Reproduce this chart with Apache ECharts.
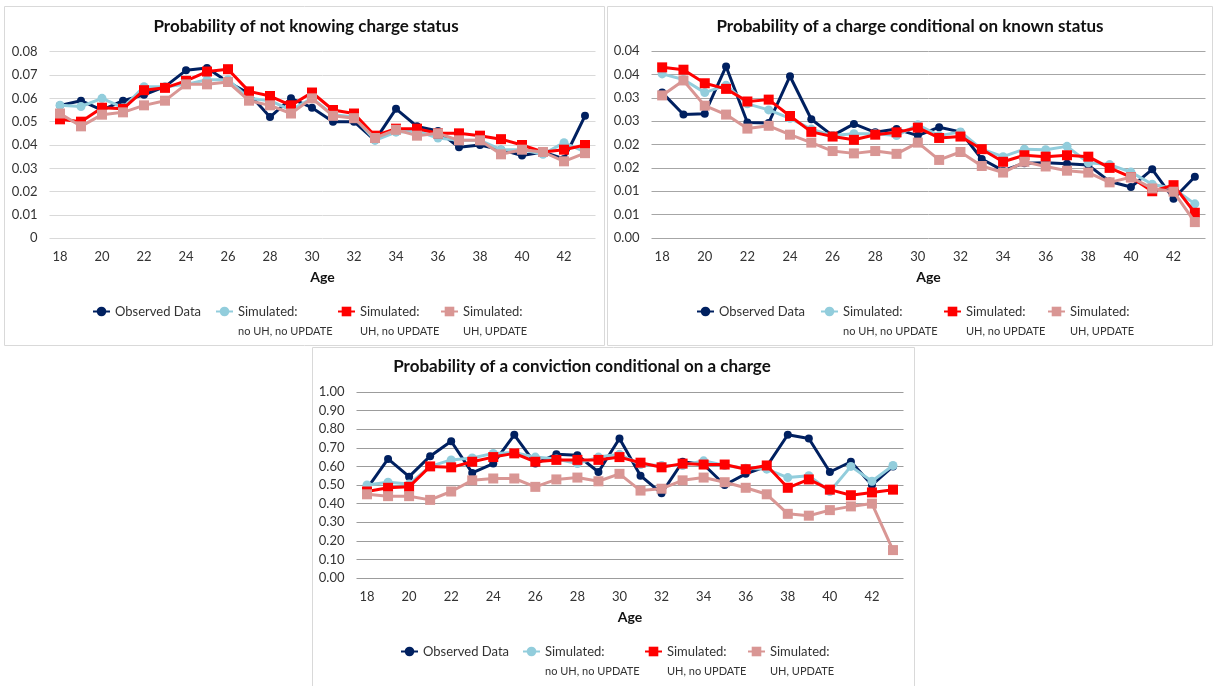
<!DOCTYPE html>
<html><head><meta charset="utf-8">
<script src="https://cdn.jsdelivr.net/npm/echarts@6/dist/echarts.min.js"></script>
<style>html,body{margin:0;padding:0;background:#fff}#c{width:1215px;height:686px}</style>
</head><body><div id="c"></div>
<script>
const ages = ['18','19','20','21','22','23','24','25','26','27','28','29','30','31','32','33','34','35','36','37','38','39','40','41','42','43'];

const seriesNames = ['Observed Data', 'Simulated: no UH, no UPDATE', 'Simulated: UH, no UPDATE', 'Simulated: UH, UPDATE'];
const legendLine1 = ['Observed Data', 'Simulated:', 'Simulated:', 'Simulated:'];
const legendLine2 = [' ', 'no UH, no UPDATE', 'UH, no UPDATE', 'UH, UPDATE'];

const titles = ['Probability of not knowing charge status', 'Probability of a charge conditional on known status', 'Probability of a conviction conditional on a charge'];

// Panel 1: Probability of not knowing charge status
const p1Observed = [0.057,0.059,0.055,0.059,0.0615,0.065,0.072,0.073,0.067,0.062,0.052,0.060,0.056,0.050,0.050,0.042,0.0555,0.048,0.046,0.039,0.040,0.038,0.0355,0.037,0.034,0.0525];
const p1NoUH     = [0.057,0.0565,0.060,0.056,0.065,0.065,0.066,0.068,0.068,0.060,0.059,0.055,0.060,0.053,0.052,0.042,0.0455,0.046,0.043,0.042,0.042,0.038,0.038,0.036,0.041,0.037];
const p1UH       = [0.051,0.050,0.056,0.0555,0.0635,0.0645,0.0675,0.0715,0.0725,0.063,0.061,0.057,0.0625,0.055,0.0535,0.044,0.047,0.047,0.045,0.045,0.044,0.0425,0.040,0.037,0.038,0.040];
const p1UHUpd    = [0.0535,0.048,0.053,0.054,0.057,0.059,0.066,0.066,0.067,0.059,0.057,0.0535,0.060,0.0525,0.0515,0.043,0.0465,0.044,0.045,0.042,0.042,0.036,0.038,0.037,0.033,0.0365];
const p1Ticks = ['0','0.01','0.02','0.03','0.04','0.05','0.06','0.07','0.08'];

// Panel 2: Probability of a charge conditional on known status
const p2Observed = [0.0311,0.0264,0.0266,0.0367,0.0247,0.0246,0.0346,0.0254,0.0219,0.0244,0.0226,0.0233,0.0219,0.0237,0.0227,0.0169,0.0144,0.0160,0.0161,0.0159,0.0156,0.0121,0.0109,0.0147,0.0084,0.0131];
const p2NoUH     = [0.0351,0.0339,0.0311,0.0327,0.0287,0.0274,0.0256,0.0233,0.0219,0.0223,0.0223,0.0219,0.0242,0.0219,0.0227,0.0190,0.0174,0.0190,0.0189,0.0196,0.0161,0.0157,0.0141,0.0115,0.0106,0.0073];
const p2UH       = [0.0365,0.0360,0.0331,0.0319,0.0292,0.0296,0.0261,0.0227,0.0217,0.0210,0.0221,0.0226,0.0236,0.0214,0.0217,0.0190,0.0163,0.0177,0.0174,0.0177,0.0174,0.0150,0.0130,0.0100,0.0113,0.0054];
const p2UHUpd    = [0.0305,0.0337,0.0283,0.0264,0.0234,0.0240,0.0221,0.0204,0.0186,0.0181,0.0186,0.0180,0.0204,0.0167,0.0184,0.0154,0.0140,0.0163,0.0153,0.0144,0.0140,0.0119,0.0130,0.0106,0.0099,0.0034];
const p2Ticks = ['0.00','0.01','0.01','0.02','0.02','0.03','0.03','0.04','0.04'];

// Panel 3: Probability of a conviction conditional on a charge
const p3Observed = [0.48,0.64,0.545,0.655,0.735,0.565,0.615,0.77,0.615,0.665,0.66,0.57,0.75,0.55,0.455,0.625,0.61,0.50,0.56,0.60,0.77,0.75,0.57,0.625,0.50,0.60];
const p3NoUH     = [0.50,0.515,0.505,0.60,0.635,0.645,0.67,0.675,0.65,0.64,0.615,0.65,0.665,0.61,0.605,0.605,0.63,0.605,0.59,0.585,0.54,0.55,0.465,0.60,0.52,0.605];
const p3UH       = [0.465,0.485,0.49,0.60,0.595,0.625,0.65,0.67,0.625,0.635,0.635,0.635,0.65,0.62,0.595,0.615,0.61,0.61,0.585,0.605,0.485,0.53,0.475,0.445,0.46,0.475];
const p3UHUpd    = [0.45,0.44,0.44,0.42,0.465,0.525,0.535,0.535,0.49,0.53,0.54,0.52,0.56,0.47,0.48,0.525,0.54,0.515,0.485,0.45,0.345,0.335,0.365,0.385,0.40,0.15];
const p3Ticks = ['0.00','0.10','0.20','0.30','0.40','0.50','0.60','0.70','0.80','0.90','1.00'];

const colors = ['#002060', '#92cddc', '#ff0000', '#d99694'];
const symbols = ['circle', 'circle', 'rect', 'rect'];
const symbolSizes = [8, 9, 10, 10];

const FONT = 'Lato';
const chart = echarts.init(document.getElementById('c'), null, {renderer: 'canvas'});

const panels = [
  {data: [p1Observed, p1NoUH, p1UH, p1UHUpd], ticks: p1Ticks, max: 0.08, interval: 0.01,
   grid: {left: 49.5, right: 619.5, top: 51.7, bottom: 447.7}, split: '#d9d9d9',
   titleX: 306, titleY: 18, legendX: [92, 215, 337, 440], legendY: 286},
  {data: [p2Observed, p2NoUH, p2UH, p2UHUpd], ticks: p2Ticks, max: 0.04, interval: 0.005,
   grid: {left: 651.5, right: 9.5, top: 51, bottom: 448}, split: '#a6a6a6',
   titleX: 910, titleY: 18, legendX: [696, 820, 943, 1047], legendY: 286},
  {data: [p3Observed, p3NoUH, p3UH, p3UHUpd], ticks: p3Ticks, max: 1, interval: 0.1,
   grid: {left: 356.5, right: 311.5, top: 392, bottom: 108}, split: '#9c9c9c',
   titleX: 582, titleY: 358, legendX: [400, 522, 644, 747], legendY: 626}
];

const option = {
  animation: false,
  textStyle: {fontFamily: FONT},
  title: [], grid: [], xAxis: [], yAxis: [], series: [], legend: [],
  graphic: [
    {type: 'rect', shape: {x: 4.5, y: 6.5, width: 600, height: 339}, style: {fill: 'none', stroke: '#d9d9d9', lineWidth: 1}, silent: true},
    {type: 'rect', shape: {x: 607.5, y: 6.5, width: 605, height: 339}, style: {fill: 'none', stroke: '#d9d9d9', lineWidth: 1}, silent: true},
    {type: 'rect', shape: {x: 312.5, y: 347.5, width: 602, height: 345}, style: {fill: 'none', stroke: '#d9d9d9', lineWidth: 1}, silent: true}
  ]
};

panels.forEach((p, pi) => {
  option.title.push({
    text: titles[pi], left: p.titleX, top: p.titleY, textAlign: 'center', padding: 0,
    textStyle: {fontFamily: FONT, fontSize: 17, fontWeight: 'bold', color: '#111'}
  });
  option.grid.push(Object.assign({containLabel: false}, p.grid));
  option.xAxis.push({
    type: 'category', gridIndex: pi, data: ages, boundaryGap: true,
    axisLine: {show: false}, axisTick: {show: false},
    axisLabel: {interval: 1, margin: 12, fontSize: 13, color: '#333', fontFamily: FONT},
    name: 'Age', nameLocation: 'middle', nameGap: 32,
    nameTextStyle: {fontFamily: FONT, fontSize: 14, fontWeight: 'bold', color: '#111'}
  });
  option.yAxis.push({
    type: 'value', gridIndex: pi, min: 0, max: p.max, interval: p.interval,
    axisLine: {show: false}, axisTick: {show: false},
    splitLine: {show: true, lineStyle: {color: p.split, width: 1}},
    axisLabel: {margin: 12, fontSize: 13, color: '#333', fontFamily: FONT,
      formatter: (v) => p.ticks[Math.round(v / p.interval)]}
  });
  p.data.forEach((d, si) => {
    option.series.push({
      type: 'line', name: seriesNames[si], xAxisIndex: pi, yAxisIndex: pi, data: d,
      symbol: symbols[si], symbolSize: symbolSizes[si], showSymbol: true,
      lineStyle: {color: colors[si], width: 3}, itemStyle: {color: colors[si]},
      z: 2 + si
    });
    option.legend.push({
      data: [seriesNames[si]], left: p.legendX[si], top: p.legendY, padding: 0,
      itemWidth: 17, itemHeight: 12, orient: 'horizontal',
      formatter: (name) => {
        const i = seriesNames.indexOf(name);
        return '{c| }\n{a|' + legendLine1[i] + '}\n{b|' + legendLine2[i] + '}';
      },
      textStyle: {fontFamily: FONT, color: '#333',
        rich: {
          a: {fontFamily: FONT, fontSize: 13, color: '#333', lineHeight: 20},
          b: {fontFamily: FONT, fontSize: 11, color: '#333', lineHeight: 20},
          c: {fontFamily: FONT, fontSize: 11, lineHeight: 20}
        }}
    });
  });
});

chart.setOption(option);
</script>
</body></html>
